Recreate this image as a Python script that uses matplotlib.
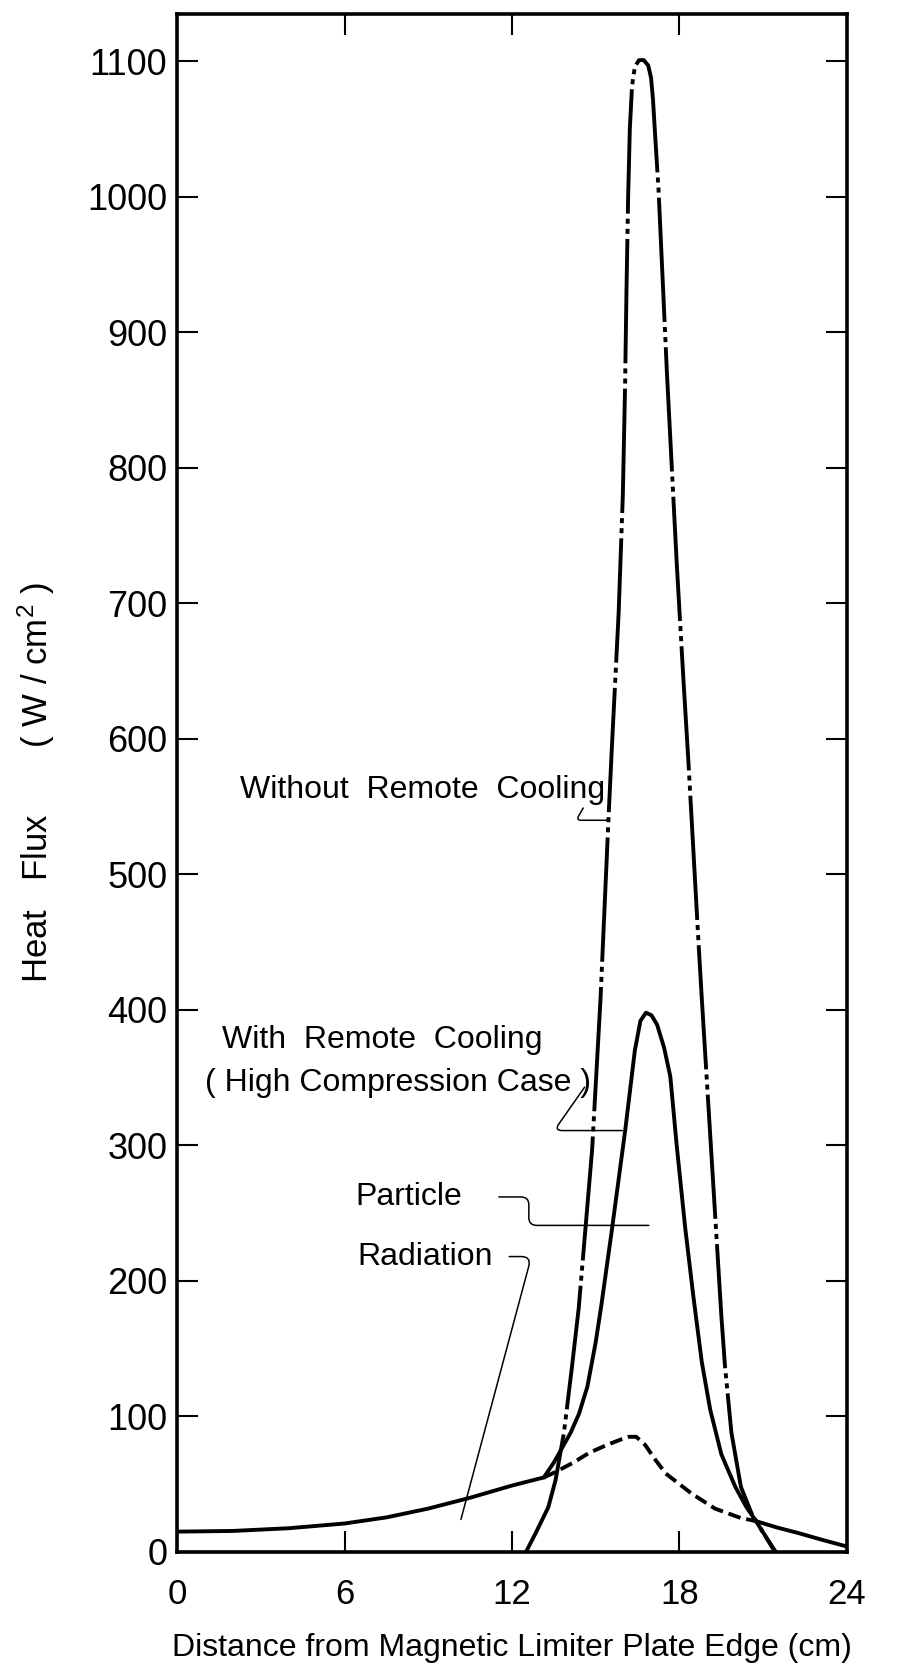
import matplotlib.pyplot as plt
import numpy as np

plt.rcParams["font.family"] = ["Liberation Sans", "DejaVu Sans"]
plt.rcParams["mathtext.fontset"] = "custom"
plt.rcParams["mathtext.rm"] = "Liberation Sans"
plt.rcParams["mathtext.it"] = "Liberation Sans:italic"

# Heat flux on the limiter plate: distance in cm, flux in W/cm^2
NO_COOL_X = [12.5, 12.85, 13.3, 13.56, 13.86, 14.15, 14.39, 14.87, 15.17, 15.46,
             15.58, 15.82, 15.97, 16.05, 16.1, 16.16, 16.22, 16.3, 16.4, 16.55,
             16.72, 16.88, 16.98, 17.05, 17.12, 17.25, 17.55, 17.9, 18.14, 18.32,
             18.68, 18.8, 19.5, 19.63, 19.86, 20.2, 20.57, 21.0, 21.45]
NO_COOL_Y = [0, 14, 33, 53, 88, 137, 180, 297, 408, 543,
             595, 693, 780, 860, 930, 1000, 1050, 1082, 1096, 1101,
             1101, 1097, 1088, 1072, 1048, 1005, 870, 730, 644, 583,
             450, 408, 174, 137, 88, 48, 29, 14, 0]

PARTICLE_X = [13.14, 13.5, 13.8, 14.1, 14.4, 14.7, 15.0, 15.2, 15.58, 16.06,
              16.4, 16.6, 16.8, 17.0, 17.2, 17.45, 17.67, 17.9, 18.2, 18.5,
              18.8, 19.1, 19.5, 20.0, 20.4, 20.7, 21.1, 21.42]
PARTICLE_Y = [55, 66, 77, 88, 102, 122, 155, 182, 238, 312,
              370, 392, 398, 396, 389, 372, 351, 300, 240, 188,
              140, 105, 72, 48, 33, 24, 11, 0]

RAD_X = [0, 2, 4, 6, 7.5, 9, 10.5, 12, 13.14,
         13.56, 14.2, 14.75, 15.4, 15.9, 16.2, 16.45, 16.77, 17.1, 17.5,
         18.0, 18.44, 19.27, 20.2, 20.7,
         21.5, 22.25, 23.1, 24]
RAD_Y = [15, 15.5, 17.5, 21, 25.5, 32, 40, 49, 55,
         59, 66, 73, 79, 83, 85, 85, 79, 69, 58,
         50, 43, 32, 25, 23,
         18, 14, 9, 4]
# radiation is drawn dashed where it lies under the particle curve
RAD_HIDDEN = (13.14, 20.7)

X_TICKS = [0, 6, 12, 18, 24]
Y_TICKS = list(range(0, 1101, 100))

LINE_W = 2.8
LEAD_W = 1.1


def main():
    fig = plt.figure(figsize=(9, 16.72), dpi=100)
    ax = fig.add_axes([0.1967, 0.0718, 0.7444, 0.9198])

    ax.plot(NO_COOL_X, NO_COOL_Y, color="black", lw=LINE_W,
            linestyle=(0, (32, 1.3, 1.3, 1.3, 1.3, 1.3)))
    ax.plot(PARTICLE_X, PARTICLE_Y, color="black", lw=LINE_W,
            solid_capstyle="round", solid_joinstyle="round")

    rx = np.array(RAD_X)
    ry = np.array(RAD_Y)
    lo, hi = RAD_HIDDEN
    left = rx <= lo
    mid = (rx >= lo) & (rx <= hi)
    right = rx >= hi
    ax.plot(rx[left], ry[left], color="black", lw=LINE_W)
    ax.plot(rx[mid], ry[mid], color="black", lw=LINE_W,
            linestyle=(0, (3.3, 1.5)))
    ax.plot(rx[right], ry[right], color="black", lw=LINE_W)

    # curve labels and their leaders
    ax.text(2.25, 562, "Without  Remote  Cooling", fontsize=23,
            ha="left", va="center")
    ax.text(1.6, 378, "With  Remote  Cooling", fontsize=23,
            ha="left", va="center")
    ax.text(1.0, 346, "( High Compression Case )", fontsize=23,
            ha="left", va="center")
    ax.text(6.4, 262, "Particle", fontsize=23, ha="left", va="center")
    ax.text(6.45, 218, "Radiation", fontsize=23, ha="left", va="center")

    lead = dict(arrowstyle="-", lw=LEAD_W, color="black",
                shrinkA=0, shrinkB=0)
    ax.annotate("", xy=(15.45, 540), xytext=(14.55, 549),
                arrowprops=dict(lead, connectionstyle="angle,angleA=60,angleB=0,rad=5"))
    ax.annotate("", xy=(15.95, 311), xytext=(14.6, 343),
                arrowprops=dict(lead, connectionstyle="angle,angleA=55,angleB=0,rad=8"))
    ax.annotate("", xy=(16.9, 241), xytext=(11.53, 262),
                arrowprops=dict(lead, connectionstyle="arc,angleA=0,armA=30,angleB=180,armB=120,rad=8"))
    ax.annotate("", xy=(10.17, 24), xytext=(11.9, 218),
                arrowprops=dict(lead, connectionstyle="angle,angleA=0,angleB=75,rad=10"))

    ax.set_xlim(0, 24)
    ax.set_ylim(0, 1135)
    ax.set_xticks(X_TICKS)
    ax.set_yticks(Y_TICKS)
    ax.tick_params(axis="both", direction="in", length=15, width=1.5,
                   top=True, right=True)
    ax.tick_params(axis="x", labelsize=25, pad=19)
    ax.tick_params(axis="y", labelsize=26, pad=7)
    for spine in ax.spines.values():
        spine.set_linewidth(2.6)

    ax.set_xlabel("Distance from Magnetic Limiter Plate Edge (cm)",
                  fontsize=23)
    ax.xaxis.set_label_coords(0.5, -0.053)
    ax.set_ylabel("Heat   Flux       ( W / cm$^2$ )", fontsize=25)
    ax.yaxis.set_label_coords(-0.179, 0.5)

    fig.savefig("out.png", dpi=100, facecolor="white")
    plt.close(fig)


if __name__ == "__main__":
    main()
